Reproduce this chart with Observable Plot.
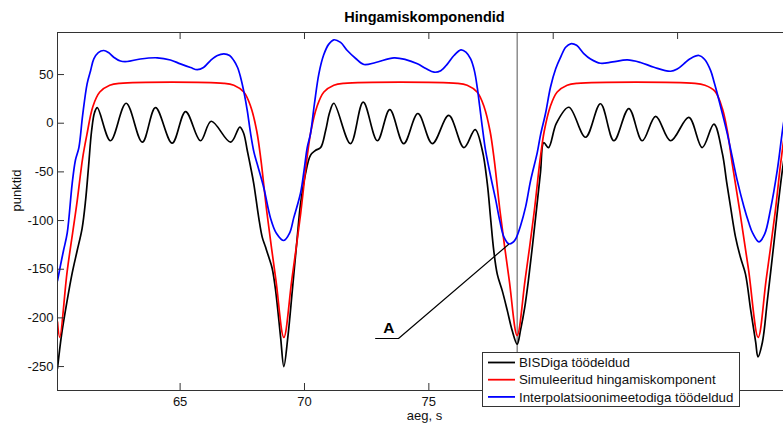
<!DOCTYPE html>
<html>
<head>
<meta charset="utf-8">
<script src="https://cdn.jsdelivr.net/npm/d3@7"></script>
<script src="https://cdn.jsdelivr.net/npm/@observablehq/plot@0.6"></script>
<style>
  html, body { margin: 0; padding: 0; background: #fff; overflow: hidden; }
  #wrap { position: relative; width: 783px; height: 425px; overflow: hidden; background: #fff; }
</style>
</head>
<body>
<div id="wrap"></div>
<script>
// Texts
const titleText = "Hingamiskomponendid";
const xLabel = "aeg, s";
const yLabel = "punktid";
const seriesNames = ["BISDiga töödeldud", "Simuleeritud hingamiskomponent", "Interpolatsioonimeetodiga töödeldud"];
const seriesColors = ["#000000", "#ff0000", "#0000ff"];

// Axes (80 and 85 carry tick marks only; the legend sits over their labels)
const xTicks = [65, 70, 75, 80, 85];
const xTickLabels = [65, 70, 75];
const yTicks = [50, 0, -50, -100, -150, -200, -250];
const xDomain = [60.07, 89.58];
const yDomain = [-274.6, 93.2];

// BIS-processed signal (time s, points)
const bisT = [60.07, 60.23, 60.46, 60.66, 60.86, 61.06, 61.20, 61.32, 61.44, 61.56, 61.67, 62.20, 62.83, 63.48, 64.01, 64.68, 65.22, 65.82, 66.25, 67.03, 67.40, 67.55, 67.70, 67.83, 67.96, 68.16, 68.30, 68.43, 68.57, 68.70, 68.84, 69.04, 69.17, 69.33, 69.51, 69.71, 69.84, 70.04, 70.24, 70.44, 70.65, 70.85, 71.01, 71.18, 71.85, 72.36, 72.93, 73.43, 73.99, 74.56, 75.14, 75.80, 76.41, 76.86, 77.15, 77.35, 77.48, 77.61, 77.75, 77.95, 78.15, 78.35, 78.55, 78.69, 78.85, 79.01, 79.17, 79.33, 79.49, 79.62, 79.81, 80.13, 80.63, 81.30, 81.90, 82.44, 83.04, 83.58, 84.12, 84.72, 85.45, 85.99, 86.46, 86.80, 86.97, 87.13, 87.33, 87.53, 87.73, 87.94, 88.14, 88.23, 88.41, 88.61, 88.87, 89.06, 89.26, 89.54];
const bisV = [-252, -218, -182, -154, -131, -108, -79, -44, -8, 11, 16, -18, 20.5, -19.5, 16, -20.5, 12, -18, 2, -19.5, -4, -10, -28, -44.5, -62, -97, -117, -127, -138, -149, -172, -220, -250, -220, -172, -117, -83, -52, -33, -28, -25, -7.5, 11, 20.5, -21, 21.6, -18, 14, -21, 10, -21, 8, -25, -6.5, -28, -62, -97, -131, -155, -172, -192, -213, -227, -212, -190, -160, -125, -88, -50, -20, -25, 0, 16.4, -14.4, 20, -18, 15, -18, 7, -18, 6, -25, -1, -31, -60, -86, -117, -138, -155, -192, -225, -240, -225, -182, -124, -80, -40, 0];

// Simulated breathing component
const simT = [60.07, 60.16, 60.46, 60.84, 61.08, 61.25, 61.49, 61.77, 62.17, 62.57, 66.76, 67.16, 67.56, 67.84, 68.08, 68.25, 68.49, 68.85, 69.17, 69.49, 69.85, 70.09, 70.26, 70.50, 70.78, 71.18, 71.58, 76.14, 76.54, 76.94, 77.22, 77.46, 77.63, 77.87, 78.23, 78.55, 78.87, 79.23, 79.47, 79.64, 79.88, 80.16, 80.56, 80.96, 85.70, 86.10, 86.50, 86.80, 87.00, 87.20, 87.50, 87.85, 88.24, 88.56, 88.92, 89.16, 89.33, 89.60];
const simV = [-204, -220, -152, -84, -36, -12, 17, 32, 39, 41, 41, 39, 32, 17, -8, -38, -92, -161, -220, -161, -92, -38, -8, 17, 32, 39, 41, 41, 39, 32, 17, -8, -38, -92, -161, -218, -161, -92, -38, -8, 17, 32, 39, 41, 41, 39, 33, 15, -8, -42, -90, -150, -220, -161, -92, -38, -8, 20];

// Interpolation-method result
const intT = [60.07, 60.19, 60.31, 60.46, 60.66, 60.79, 60.93, 61.08, 61.26, 61.40, 61.53, 61.71, 61.93, 62.12, 62.33, 62.60, 62.87, 63.40, 64.08, 64.61, 65.01, 65.42, 65.69, 65.94, 66.22, 66.50, 66.76, 66.99, 67.16, 67.31, 67.43, 67.57, 67.70, 67.83, 67.97, 68.10, 68.37, 68.63, 68.87, 69.17, 69.40, 69.57, 69.84, 69.98, 70.11, 70.24, 70.40, 70.58, 70.77, 70.97, 71.18, 71.45, 71.72, 72.06, 72.39, 72.86, 73.60, 74.07, 74.54, 74.88, 75.21, 75.48, 75.75, 76.01, 76.29, 76.49, 76.68, 76.83, 76.95, 77.04, 77.15, 77.28, 77.48, 77.69, 77.85, 78.02, 78.22, 78.37, 78.49, 78.69, 78.89, 79.09, 79.36, 79.49, 79.69, 79.89, 80.10, 80.30, 80.50, 80.70, 80.94, 81.23, 81.50, 81.90, 82.39, 82.98, 83.51, 84.05, 84.72, 85.00, 85.25, 85.52, 85.86, 86.09, 86.33, 86.47, 86.60, 86.77, 87.00, 87.20, 87.40, 87.67, 87.86, 88.02, 88.27, 88.50, 88.74, 89.01, 89.26, 89.54];
const intV = [-162, -146, -131, -113, -62, -38, -25, 8, 40.5, 54, 66, 72.6, 74.7, 72.6, 67.8, 63.9, 63.4, 66, 67.2, 65, 61, 57.2, 55, 57.2, 64.4, 69.6, 71.3, 69.6, 64.4, 57.2, 47.3, 31.5, 13, -10, -30, -42, -67, -97, -113, -120.5, -113, -97, -72, -49, -25, -11, 20, 51, 70, 81, 85.7, 83, 74.7, 66.5, 60.3, 62.4, 67.2, 65.4, 61, 56.2, 52.4, 54, 61, 69.6, 75.4, 73, 66, 54, 36, 18, -4, -28, -54, -79, -100, -117, -124, -122.6, -119, -105, -86, -59, -30, -12, 10, 37, 56, 68, 78, 81.6, 80, 71.6, 66, 61.6, 63, 65, 62.4, 57.5, 53.4, 56, 61, 66.5, 69.6, 65.4, 54, 42, 30, 13, -11, -35, -59, -86, -102, -113, -122, -114, -88, -48, 0, 40];

// Cursor line and annotation "A" pointing at the interpolated minimum
const cursorT = [78.55];
const noteT = [72.86, 73.78, 78.20];
const noteV = [-221.2, -221.2, -124.6];
const noteLabel = [{t: 73.39, v: -210.6, text: "A"}];

const rows = (T, V) => T.map((t, i) => ({t, v: V[i]}));
const bis = rows(bisT, bisV);
const sim = rows(simT, simV);
const intp = rows(intT, intV);
const note = rows(noteT, noteV);

const W = 791, H = 425, mL = 57, mT = 32, mB = 35, mR = 0;
const innerH = H - mT - mB, innerW = W - mL - mR;
const font = '"Liberation Sans", Arial, Helvetica, sans-serif';
const axisColor = "#333";

const chart = Plot.plot({
  width: W, height: H,
  marginLeft: mL, marginRight: mR, marginTop: mT, marginBottom: mB,
  style: {fontFamily: font, fontSize: "13px", color: "#111", background: "#fff"},
  x: {domain: xDomain},
  y: {domain: yDomain},
  marks: [
    Plot.ruleX(cursorT, {stroke: "#555", strokeWidth: 1}),
    Plot.line(bis, {x: "t", y: "v", stroke: seriesColors[0], strokeWidth: 1.7, curve: "catmull-rom", clip: true}),
    Plot.line(sim, {x: "t", y: "v", stroke: seriesColors[1], strokeWidth: 1.7, curve: "catmull-rom", clip: true}),
    Plot.line(intp, {x: "t", y: "v", stroke: seriesColors[2], strokeWidth: 1.7, curve: "catmull-rom", clip: true}),
    Plot.line(note, {x: "t", y: "v", stroke: "#000", strokeWidth: 1.2}),
    Plot.text(noteLabel, {x: "t", y: "v", text: "text", fontWeight: "bold", fontSize: 15.5, fill: "#000"}),
    // box edges
    Plot.ruleX([xDomain[0]], {stroke: axisColor, strokeWidth: 1}),
    Plot.ruleY(yDomain, {stroke: axisColor, strokeWidth: 1}),
    // inward ticks
    Plot.ruleX(xTicks, {stroke: axisColor, insetTop: innerH - 7}),
    Plot.ruleX(xTicks, {stroke: axisColor, insetBottom: innerH - 7}),
    Plot.ruleY(yTicks, {stroke: axisColor, insetRight: innerW - 7}),
    Plot.axisX({ticks: xTickLabels, tickSize: 0, tickPadding: 6, tickFormat: d => String(d), label: null, fontSize: 13, fill: "#111"}),
    Plot.axisY({ticks: yTicks, tickSize: 0, tickPadding: 4, tickFormat: d => String(d), label: null, fontSize: 13, fill: "#111"}),
    Plot.text([titleText], {frameAnchor: "top", dy: -11, lineAnchor: "bottom", fontWeight: "bold", fontSize: 14.5, fill: "#000"}),
    Plot.text([xLabel], {frameAnchor: "bottom", dy: 29.3, lineAnchor: "bottom", fontSize: 13, fill: "#111"}),
    Plot.text([yLabel], {frameAnchor: "left", dx: -40.3, rotate: -90, fontSize: 13, fill: "#111"})
  ]
});
chart.style.maxWidth = "none";
chart.style.width = W + "px";
chart.style.height = H + "px";
chart.style.display = "block";
document.getElementById("wrap").appendChild(chart);

// Legend box
const leg = d3.select("#wrap").append("svg")
  .attr("width", 259).attr("height", 56)
  .style("position", "absolute").style("left", "482px").style("top", "352px");
leg.append("rect").attr("x", 0.5).attr("y", 0.5).attr("width", 257).attr("height", 54)
  .attr("fill", "#fff").attr("stroke", axisColor);
seriesNames.forEach((name, i) => {
  const cy = 10.5 + i * 17.2;
  leg.append("line").attr("x1", 6).attr("x2", 33).attr("y1", cy).attr("y2", cy)
    .attr("stroke", seriesColors[i]).attr("stroke-width", 1.8);
  leg.append("text").attr("x", 37).attr("y", cy).attr("dy", "0.35em")
    .attr("fill", "#111").style("font-family", font).style("font-size", "13.3px")
    .text(name);
});
</script>
</body>
</html>
